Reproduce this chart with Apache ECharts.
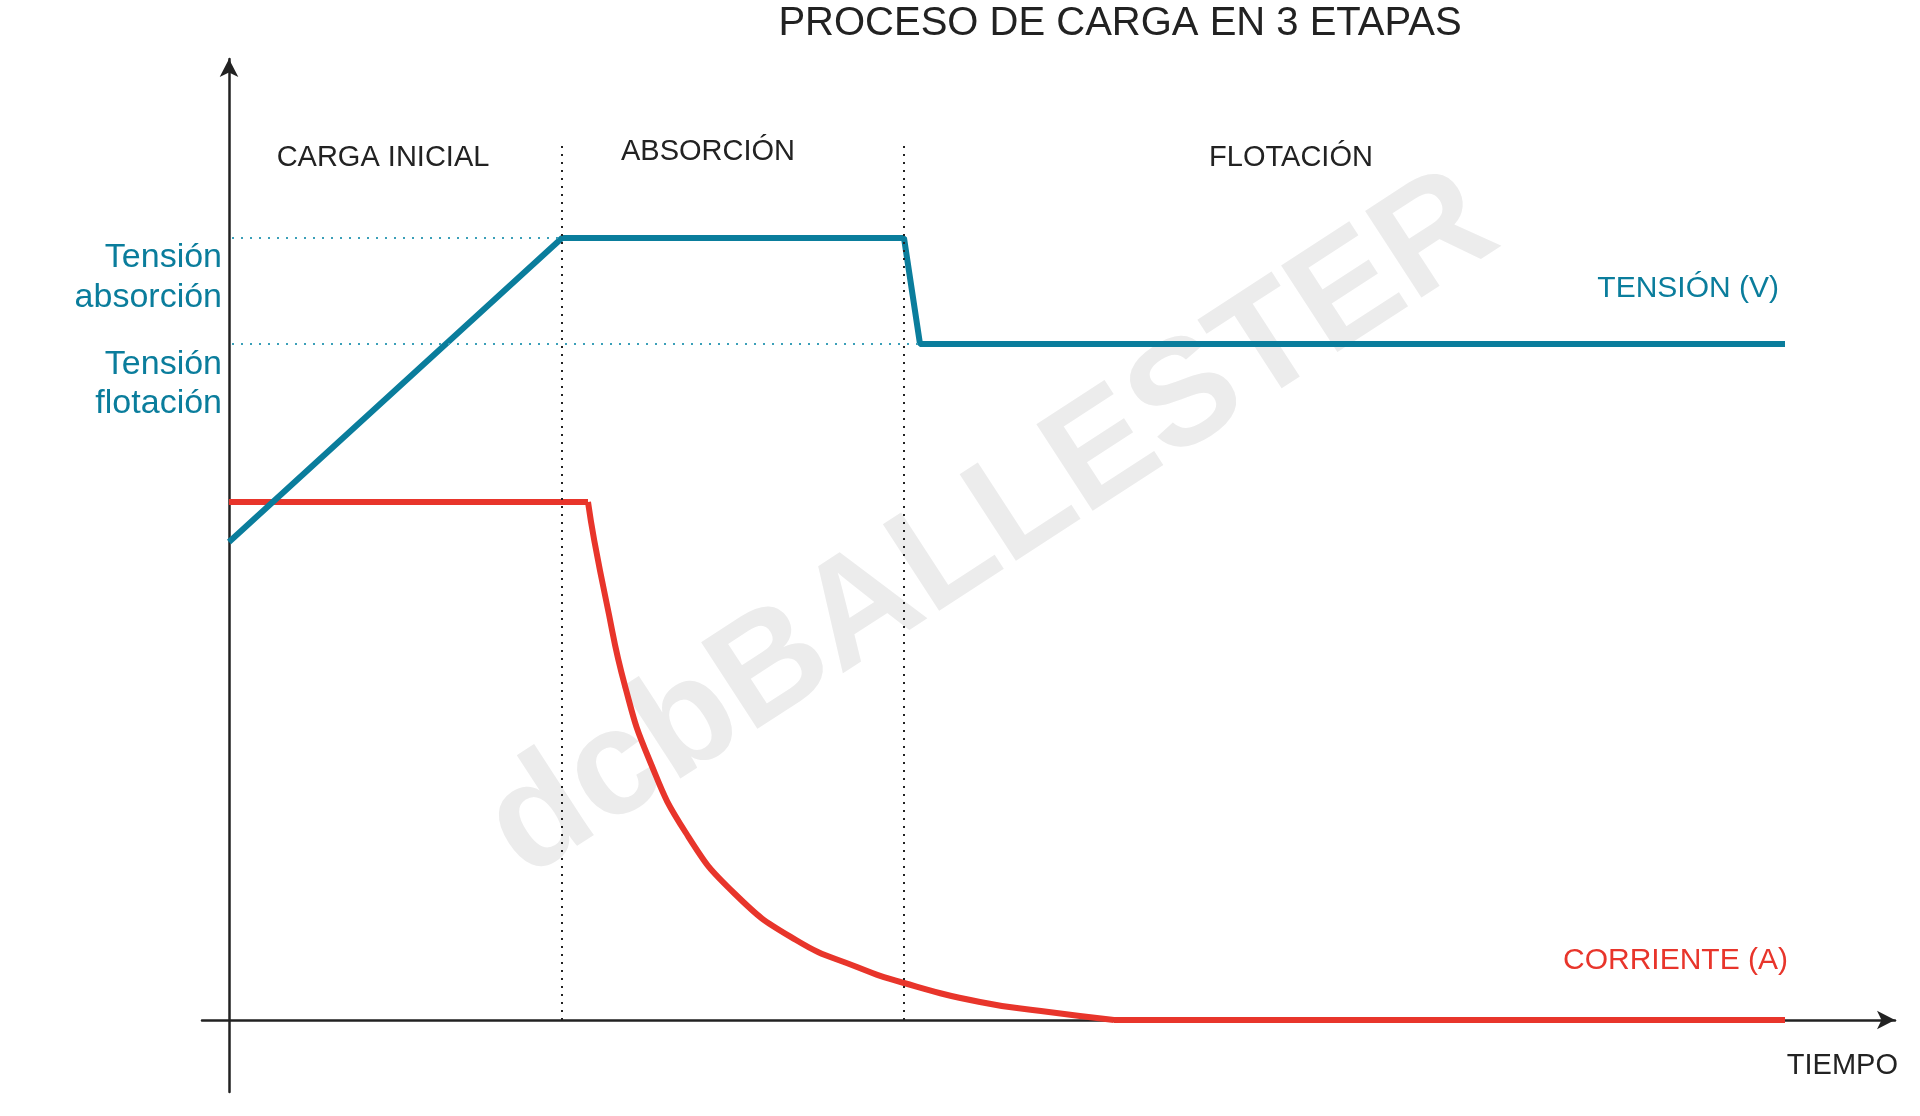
<!DOCTYPE html>
<html><head><meta charset="utf-8">
<script src="https://cdn.jsdelivr.net/npm/echarts@6/dist/echarts.min.js"></script>
<style>html,body{margin:0;background:#fff}#c{width:1920px;height:1116px}</style>
</head><body><div id="c"></div>
<script>
// tiempo / valor en unidades relativas
var tensionX = [0, 333, 675, 691, 1556];
var tensionY = [478, 782, 782, 676, 676];
var corrienteX = [0, 359];
var corrienteY = [518, 518];
var caidaX = [359, 365, 377, 396, 420, 457, 506, 567, 628, 675, 751, 812, 885];
var caidaY = [518, 481, 420, 334, 261, 187, 126, 80, 53, 37, 18, 9, 0];
var restoX = [885, 1556];
var restoY = [0, 0];
var etapasX = [333, 675];
var nivelAbs = 782, nivelFlot = 676;

var teal = '#0a7d9c', red = '#e8352b', ink = '#222';
var chart = echarts.init(document.getElementById('c'));
var F = 'Liberation Sans, Arial, sans-serif';
function txt(x, y, t, c, s, align) {
	return {type: 'text', x: x, y: y, style: {text: t, fill: c, font: s + 'px ' + F, align: align || 'center', verticalAlign: 'middle'}};
}
function pares(xs, ys) { return xs.map(function (x, i) { return [x, ys[i]]; }); }
option = {
	animation: false,
	grid: {left: 202, right: 25, top: 59, bottom: 24},
	xAxis: {type: 'value', min: -27, max: 1666, axisLabel: {show: false}, axisTick: {show: false}, splitLine: {show: false},
		axisLine: {onZero: true, symbol: ['none', 'arrow'], symbolSize: [14, 18], lineStyle: {color: ink, width: 2.5}}},
	yAxis: {type: 'value', min: -72, max: 961, axisLabel: {show: false}, axisTick: {show: false}, splitLine: {show: false},
		axisLine: {onZero: true, symbol: ['none', 'arrow'], symbolSize: [14, 18], lineStyle: {color: ink, width: 2.5}}},
	graphic: [
		{type: 'text', x: 992, y: 527, rotation: 33 * Math.PI / 180, z: -1, style: {text: 'dcbBALLESTER', fill: '#ececec', font: 'bold 150px ' + F, align: 'center', verticalAlign: 'middle'}},
		txt(1120, 24, 'PROCESO DE CARGA EN 3 ETAPAS', ink, 40),
		txt(383, 158, 'CARGA INICIAL', ink, 29),
		txt(708, 152, 'ABSORCIÓN', ink, 29),
		txt(1291, 158, 'FLOTACIÓN', ink, 29),
		txt(222, 258, 'Tensión', teal, 34, 'right'),
		txt(222, 298, 'absorción', teal, 34, 'right'),
		txt(222, 365, 'Tensión', teal, 34, 'right'),
		txt(222, 404, 'flotación', teal, 34, 'right'),
		txt(1779, 289, 'TENSIÓN (V)', teal, 30, 'right'),
		txt(1788, 961, 'CORRIENTE (A)', red, 30, 'right'),
		txt(1898, 1066, 'TIEMPO', ink, 29, 'right')
	],
	series: [
		{type: 'line', data: pares(corrienteX, corrienteY), symbol: 'none', lineStyle: {color: red, width: 6}, z: 3},
		{type: 'line', data: pares(caidaX, caidaY), smooth: 0.5, symbol: 'none', lineStyle: {color: red, width: 6}, z: 3},
		{type: 'line', data: pares(restoX, restoY), symbol: 'none', lineStyle: {color: red, width: 6}, z: 3},
		{type: 'line', data: pares(tensionX, tensionY), symbol: 'none',
			lineStyle: {color: teal, width: 6}, z: 4,
			markLine: {silent: true, symbol: 'none', label: {show: false}, data: [
				[{coord: [etapasX[0], 0], lineStyle: {color: ink, type: [2, 6], width: 2}}, {coord: [etapasX[0], 879]}],
				[{coord: [etapasX[1], 0], lineStyle: {color: ink, type: [2, 6], width: 2}}, {coord: [etapasX[1], 879]}],
				[{coord: [3, nivelAbs], lineStyle: {color: '#3a9fb8', type: [2, 7], width: 2}}, {coord: [etapasX[0], nivelAbs]}],
				[{coord: [3, nivelFlot], lineStyle: {color: '#3a9fb8', type: [2, 7], width: 2}}, {coord: [691, nivelFlot]}]
			]}}
	]
};
chart.setOption(option, true);
</script></body></html>
